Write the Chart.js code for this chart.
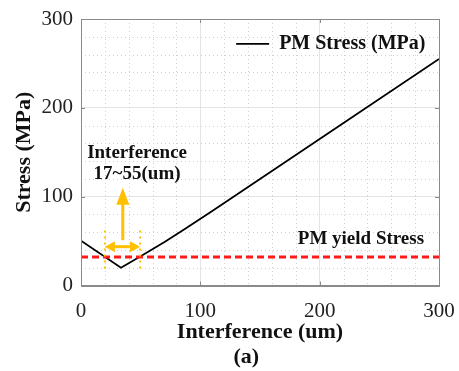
<!DOCTYPE html>
<html><head><meta charset="utf-8">
<script src="https://cdn.jsdelivr.net/npm/chart.js@4/dist/chart.umd.min.js"></script>
<style>html,body{margin:0;padding:0;background:#fff;overflow:hidden}#wrap{width:459px;height:371px}</style>
</head><body><div id="wrap"><canvas id="c" width="459" height="371"></canvas></div>
<script>
// ---- data ----
const interference = [0, 33.5, 50, 70, 87, 110, 150, 200, 300];
const pmStress = [50.5, 20, 33, 49, 63.5, 84, 120, 165, 255];
const yieldX = [0, 300];
const yieldStress = [32, 32];
const xTicks = [0, 100, 200, 300];
const yTicks = [0, 100, 200, 300];
const seriesLabels = ['PM Stress (MPa)', 'PM yield Stress'];
const axisTitles = ['Interference (um)', 'Stress (MPa)'];
const figureLabel = '(a)';
const rangeNote = ['Interference', '17~55(um)'];
const rangeBounds = [20, 49.5];

// ---- annotation placement (data units) ----
const minorStep = 20;
const guideY = [19, 62];
const hArrowY = 43.7;
const vArrow = {x: 35, from: 51, to: 110};
const notePos = {x: 47, y: [149, 125.6]};
const yieldLabelPos = {x: 287.5, y: 52.4};
const legendPos = {x: 130, y: 272};

const FONT = "'Liberation Serif', 'Times New Roman', serif";
const GOLD = '#FFC000';

function arrowHead(ctx, tx, ty, dx, dy, len, half) {
  const px = -dy, py = dx;
  ctx.beginPath();
  ctx.moveTo(tx, ty);
  ctx.lineTo(tx - dx*len + px*half, ty - dy*len + py*half);
  ctx.lineTo(tx - dx*len - px*half, ty - dy*len - py*half);
  ctx.closePath();
  ctx.fill();
}

const decor = {
  id: 'decor',
  beforeDatasetsDraw(chart) {
    const {ctx, chartArea: a, scales: {x, y}} = chart;
    ctx.save();
    ctx.strokeStyle = '#d0d0d0'; ctx.lineWidth = 1; ctx.setLineDash([1, 3]);
    for (let v = minorStep; v < x.max; v += minorStep) {
      if (xTicks.includes(v)) continue;
      const px = Math.round(x.getPixelForValue(v)) + 0.5;
      ctx.beginPath(); ctx.moveTo(px, a.top); ctx.lineTo(px, a.bottom); ctx.stroke();
    }
    for (let v = minorStep; v < y.max; v += minorStep) {
      if (yTicks.includes(v)) continue;
      const py = Math.round(y.getPixelForValue(v)) + 0.5;
      ctx.beginPath(); ctx.moveTo(a.left, py); ctx.lineTo(a.right, py); ctx.stroke();
    }
    ctx.restore();
  },
  afterDatasetsDraw(chart) {
    const {ctx, chartArea: a, scales: {x, y}} = chart;
    ctx.save();
    // box + inner ticks
    ctx.strokeStyle = '#8a8a8a'; ctx.lineWidth = 1; ctx.setLineDash([]);
    ctx.strokeRect(Math.round(a.left)+0.5, Math.round(a.top)+0.5, Math.round(a.right-a.left), Math.round(a.bottom-a.top));
    xTicks.forEach(v => {
      const px = Math.round(x.getPixelForValue(v)) + 0.5;
      ctx.beginPath(); ctx.moveTo(px, a.bottom); ctx.lineTo(px, a.bottom-4);
      ctx.moveTo(px, a.top); ctx.lineTo(px, a.top+4); ctx.stroke();
    });
    yTicks.forEach(v => {
      const py = Math.round(y.getPixelForValue(v)) + 0.5;
      ctx.beginPath(); ctx.moveTo(a.left, py); ctx.lineTo(a.left+4, py);
      ctx.moveTo(a.right, py); ctx.lineTo(a.right-4, py); ctx.stroke();
    });
    // gold guides
    ctx.strokeStyle = GOLD; ctx.fillStyle = GOLD;
    ctx.lineWidth = 2; ctx.setLineDash([2, 4]);
    rangeBounds.forEach(v => {
      const px = x.getPixelForValue(v);
      ctx.beginPath(); ctx.moveTo(px, y.getPixelForValue(guideY[1])); ctx.lineTo(px, y.getPixelForValue(guideY[0])); ctx.stroke();
    });
    ctx.setLineDash([]);
    ctx.lineWidth = 3;
    const hy = y.getPixelForValue(hArrowY);
    const x0 = x.getPixelForValue(rangeBounds[0]), x1 = x.getPixelForValue(rangeBounds[1]);
    ctx.beginPath(); ctx.moveTo(x0+8, hy); ctx.lineTo(x1-8, hy); ctx.stroke();
    arrowHead(ctx, x0, hy, -1, 0, 10, 5.5);
    arrowHead(ctx, x1, hy, 1, 0, 10, 5.5);
    const vx = x.getPixelForValue(vArrow.x);
    const vy0 = y.getPixelForValue(vArrow.from), vy1 = y.getPixelForValue(vArrow.to);
    ctx.beginPath(); ctx.moveTo(vx, vy0); ctx.lineTo(vx, vy1+14); ctx.stroke();
    arrowHead(ctx, vx, vy1, 0, -1, 17, 6.5);
    // texts
    ctx.fillStyle = '#111';
    ctx.font = 'bold 19px ' + FONT;
    ctx.textAlign = 'center'; ctx.textBaseline = 'middle';
    rangeNote.forEach((t, i) => ctx.fillText(t, x.getPixelForValue(notePos.x), y.getPixelForValue(notePos.y[i])));
    ctx.textAlign = 'right';
    ctx.fillText(seriesLabels[1], x.getPixelForValue(yieldLabelPos.x), y.getPixelForValue(yieldLabelPos.y));
    // legend for the stress curve
    const ds = chart.data.datasets[0];
    const lx = x.getPixelForValue(legendPos.x), ly = y.getPixelForValue(legendPos.y);
    ctx.strokeStyle = ds.borderColor; ctx.lineWidth = 1.8;
    ctx.beginPath(); ctx.moveTo(lx, ly); ctx.lineTo(lx + 33, ly); ctx.stroke();
    ctx.textAlign = 'left';
    ctx.font = 'bold 20px ' + FONT;
    ctx.fillText(ds.label, lx + 43, ly);
    ctx.restore();
  }
};

const pts = (xs, ys) => xs.map((v, i) => ({x: v, y: ys[i]}));

new Chart(document.getElementById('c'), {
  type: 'line',
  data: {
    datasets: [
      {label: seriesLabels[0], data: pts(interference, pmStress), borderColor: '#000', backgroundColor: '#000',
       borderWidth: 1.8, pointRadius: 0, tension: 0, order: 2},
      {label: seriesLabels[1], data: pts(yieldX, yieldStress), borderColor: '#ff1a1a', backgroundColor: '#ff1a1a',
       borderWidth: 3, borderDash: [7, 4], pointRadius: 0, tension: 0, order: 1}
    ]
  },
  options: {
    responsive: false, animation: false, devicePixelRatio: 1,
    layout: {padding: {left: 0, right: 20, top: 19, bottom: 0}},
    plugins: {
      tooltip: {enabled: false},
      legend: {display: false}
    },
    scales: {
      x: {
        type: 'linear', min: 0, max: 300,
        afterFit: s => { s.height = 85.5; s.paddingLeft = 0; s.paddingRight = 0; },
        afterBuildTicks: s => { s.ticks = xTicks.map(v => ({value: v})); },
        ticks: {color: '#222', padding: 13, font: {family: FONT, size: 21}},
        grid: {color: '#e4e4e4', drawTicks: false},
        border: {color: '#8a8a8a'},
        title: {display: true, text: [axisTitles[0], figureLabel + '\u00A0\u00A0\u00A0\u00A0\u00A0'], color: '#111',
                padding: {top: 0, bottom: 1}, font: {family: FONT, size: 22, weight: 'bold', lineHeight: 1.15}}
      },
      y: {
        min: 0, max: 300,
        afterFit: s => { s.width = 81; s.paddingTop = 0; s.paddingBottom = 0; },
        afterBuildTicks: s => { s.ticks = yTicks.map(v => ({value: v})); },
        ticks: {color: '#222', padding: 8, font: {family: FONT, size: 21}},
        grid: {color: '#e4e4e4', drawTicks: false},
        border: {color: '#8a8a8a'},
        title: {display: true, text: axisTitles[1], color: '#111',
                padding: {top: 11, bottom: 0}, font: {family: FONT, size: 22, weight: 'bold'}}
      }
    }
  },
  plugins: [decor]
});
</script>
</body></html>
